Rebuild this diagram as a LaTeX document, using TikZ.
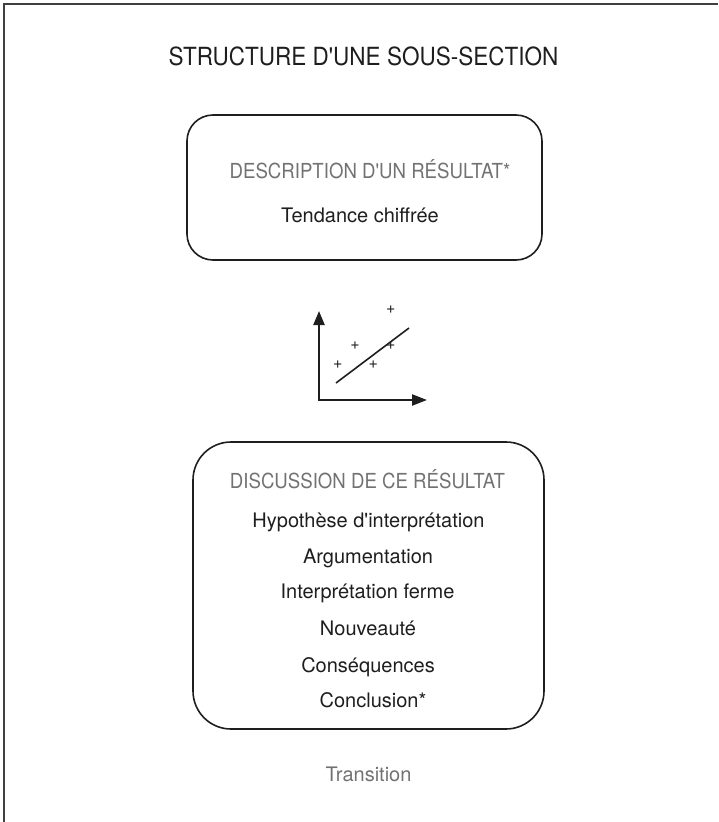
\documentclass[tikz,border=0pt]{standalone}
\usepackage{fontspec}
\setmainfont{TeX Gyre Heros}[Ligatures=TeXOff]
\newfontfamily\capsfont{TeX Gyre Heros}[FakeStretch=0.9,Ligatures=TeXOff]
\usetikzlibrary{arrows.meta}
\definecolor{ink}{HTML}{1E1E1E}
\definecolor{soft}{HTML}{727272}
\begin{document}
\begin{tikzpicture}[x=1pt,y=-1pt,
  panel/.style={draw=ink, line width=1.6pt, rounded corners=#1, inner sep=0pt},
  title/.style={anchor=base, text=ink, font=\capsfont\fontsize{25}{30}\selectfont},
  heading/.style={anchor=base, text=soft, font=\capsfont\fontsize{20.7}{25}\selectfont},
  item/.style={anchor=base, text=ink, font=\fontsize{20}{24}\selectfont},
  note/.style={anchor=base, text=soft, font=\fontsize{20}{24}\selectfont},
  axis/.style={draw=ink, line width=2.3pt, line join=miter},
  trend/.style={draw=ink, line width=1.6pt},
  pt/.style={text=ink, inner sep=0pt, font=\fontsize{16}{16}\selectfont}
]
\useasboundingbox (0,0) rectangle (718,822);

% page frame (top and left edges)
\draw[draw=ink!85, line width=1.3pt] (4,822) -- (4,4) -- (718,4);

% title
\node[title] (ttl) at (363.5,65) {STRUCTURE D'UNE SOUS-SECTION};

% first panel: description of a result
\node[panel=26pt, minimum width=355pt, minimum height=145pt] (desc) at (364.5,187.5) {};
\node[heading] (deschead) at (370,178) {DESCRIPTION D'UN RÉSULTAT*};
\node[item] (trendtxt) at (360,222) {Tendance chiffrée};

% small scatter plot with a trend line
\coordinate (ytip) at (319,311);
\coordinate (orig) at (319,400);
\coordinate (xtip) at (427,400);
\draw[axis, {Triangle[length=14pt,width=11pt]}-{Triangle[length=15pt,width=11pt]}]
  (ytip) -- (orig) -- (xtip);
\coordinate (t1) at (336,383);
\coordinate (t2) at (409,328);
\draw[trend] (t1) -- (t2);
\node[pt] (p1) at (390.7,310) {+};
\node[pt] (p2) at (355,346) {+};
\node[pt] (p3) at (390.7,346) {+};
\node[pt] (p4) at (337.7,365) {+};
\node[pt] (p5) at (373.3,365) {+};

% second panel: discussion of the result
\node[panel=38pt, minimum width=351pt, minimum height=287pt] (disc) at (368.5,585.5) {};
\node[heading] (dischead) at (367.5,488) {DISCUSSION DE CE RÉSULTAT};
\node[item] (i1) at (368.5,527) {Hypothèse d'interprétation};
\node[item] (i2) at (368,563) {Argumentation};
\node[item] (i3) at (367.5,598) {Interprétation ferme};
\node[item] (i4) at (368,635) {Nouveauté};
\node[item] (i5) at (368,672) {Conséquences};
\node[item] (i6) at (373,707) {Conclusion*};

% closing transition
\node[note] (trans) at (368.5,781) {Transition};
\end{tikzpicture}
\end{document}
